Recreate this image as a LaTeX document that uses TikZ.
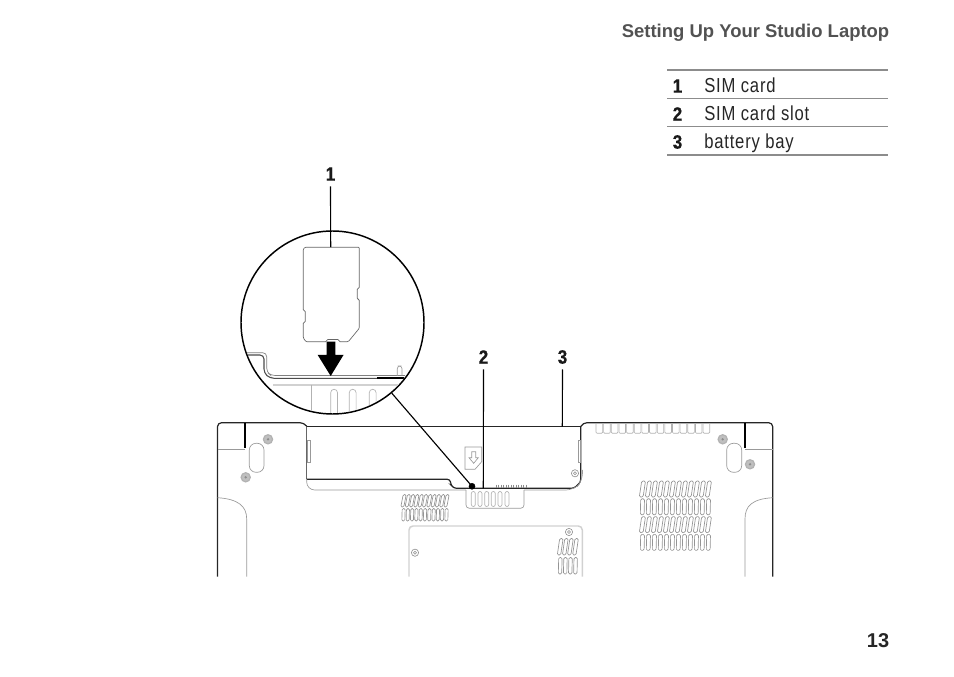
\documentclass[tikz,border=0pt]{standalone}
\usepackage{fontspec}
\setmainfont{Liberation Sans}
\newfontfamily\narrowfont[FakeStretch=0.82,LetterSpace=4]{Liberation Sans}
\newfontfamily\narrowbold[FakeStretch=0.88,FakeBold=0.6]{Liberation Sans Bold}

\tikzset{
  darkline/.style={black!85, line width=0.9pt},
  greyline/.style={black!40, line width=0.5pt},
  paleline/.style={black!18, line width=1.1pt},
  ventline/.style={black!42, line width=0.5pt, rounded corners=1pt},
  tablerule/.style={black!45, line width=0.75pt},
  leader/.style={black, line width=0.85pt},
  calloutnum/.style={font=\narrowbold\fontsize{14.5}{14.5}\selectfont, text=black!90, inner sep=0pt},
  keynum/.style={font=\narrowbold\fontsize{14.5}{14.5}\selectfont, text=black!90, inner sep=0pt},
  keytext/.style={font=\narrowfont\fontsize{15.2}{15.2}\selectfont, text=black!85, inner sep=0pt, anchor=base west},
  bigscrew/.style={black!30, fill=black!25, line width=0.9pt},
  smallscrew/.style={black!45, line width=0.45pt}
}

% x, y of first slit, columns, rows, column step, row step, slit height, slit width
\newcommand{\ventgrid}[8]{
  \foreach \r in {1,...,#4} {
    \foreach \c in {1,...,#3} {
      \pgfmathsetmacro{\sx}{#1+(\c-1)*#5}
      \pgfmathsetmacro{\sy}{#2+(\r-1)*#6}
      \pgfmathsetmacro{\sl}{mod(\r,2)==1 ? 1.2 : 0.2}
      \draw[ventline] (\sx-\sl,\sy+#7) -- (\sx-\sl+#8,\sy+#7) -- (\sx+\sl+#8,\sy) -- (\sx+\sl,\sy) -- cycle;
    }
  }
}

\begin{document}
\begin{tikzpicture}[x=0.75pt, y=-0.75pt]
\useasboundingbox (0,0) rectangle (954,677);

% page text
\node[anchor=east, inner sep=0pt, text=black!68, font=\bfseries\fontsize{13.85}{13.85}\selectfont] (title) at (889.5,32.5) {Setting Up Your Studio Laptop};
\node[anchor=east, inner sep=0pt, text=black!85, font=\bfseries\fontsize{15}{15}\selectfont] (pagenum) at (889.5,641) {13};

% key table
\foreach \y/\w in {70/1.1, 98.3/0.6, 126.7/1.1, 155/1.1} {
  \draw[tablerule, line width=\w*0.75pt] (667.3,\y) -- (887.7,\y);
}
\node[keynum] (keyone) at (677.5,86) {1};
\node[keynum] (keytwo) at (677.5,114) {2};
\node[keynum] (keythree) at (677.5,142) {3};
\node[keytext] (cardtext) at (704,93) {SIM card};
\node[keytext] (slottext) at (704,121) {SIM card slot};
\node[keytext] (baytext) at (704,149) {battery bay};

% laptop body
\draw[darkline, rounded corners=3pt] (217.5,576.7) -- (217.5,422.7) -- (304,422.7) -- (307,426.7);
\draw[darkline, rounded corners=3pt] (580.7,426.7) -- (583,422.7) -- (772.7,422.7) -- (772.7,576.7);
\draw[darkline] (307,426.7) -- (580.7,426.7);
\draw[black, line width=1.1pt] (245,422.7) -- (245,448.5);
\draw[black, line width=1.1pt] (745,422.7) -- (745,448.5);
\draw[greyline] (217.5,449.3) -- (245,449.3);
\draw[greyline] (745,449.3) -- (772.7,449.3);
\draw[greyline] (217.5,497.7) .. controls (238,499) and (246.7,506) .. (246.7,519) -- (246.7,576.7);
\draw[greyline] (772.7,497.7) .. controls (752,499) and (745,506) .. (745,519) -- (745,576.7);

% battery bay
\draw[black!60, line width=0.8pt] (306.7,426.7) -- (306.7,479.3);
\draw[darkline, rounded corners=2pt] (306.7,479.3) -- (450,479.3) -- (451,485) -- (454,488.3) -- (574,488.3) -- (580.7,482) -- (580.7,426.7);
\draw[greyline, rounded corners=6pt] (306.7,479.3) -- (306.7,490) -- (466,490);
\draw[greyline, rounded corners=6pt] (524,490) -- (574,490) -- (582.5,481) -- (582.5,470);
\draw[greyline] (307,440) rectangle (310,462);
\draw[greyline] (578,440) rectangle (580.7,462);

% battery latch
\draw[greyline, rounded corners=2.5pt] (466,490) -- (466,508.3) -- (524,508.3) -- (524,490);
\foreach \x in {473.3,480,486.7,493.3,500,507} {
  \draw[black!30, line width=0.5pt, rounded corners=1.5pt] (\x-2,491.5) rectangle (\x+2,506.5);
}
\foreach \x in {496,498.5,...,527} {
  \draw[black!45, line width=0.5pt] (\x,484.5) -- (\x,487.5);
}

% lock icon on the bay
\draw[greyline] (465,447) -- (481.7,447) -- (481.7,461.7) -- (475,469.3) -- (465,469.3) -- cycle;
\draw[greyline] (471.7,451.7) -- (475.7,451.7) -- (475.7,457.7) -- (478.3,457.7) -- (473.7,463.3) -- (469,457.7) -- (471.7,457.7) -- cycle;

% top vent
\foreach \i in {0,...,14} {
  \draw[black!30, line width=0.5pt, rounded corners=0.8pt] (596+\i*7.65,424) -- (596+\i*7.65,433.3) -- (602.6+\i*7.65,433.3) -- (602.6+\i*7.65,424);
}

% feet and screws
\draw[greyline, rounded corners=5pt] (249.3,443.3) rectangle (264,472.3);
\draw[greyline, rounded corners=5pt] (726.7,443.3) rectangle (741.7,472.3);
\foreach \x/\y in {268/439.3, 245.7/477.3, 722.7/439.3, 750/464.3} {
  \draw[bigscrew] (\x,\y) circle (4.6);
  \fill[black!45] (\x,\y) circle (1.3);
}
\foreach \x/\y in {415/552.7, 569/532, 575/473.3} {
  \draw[smallscrew] (\x,\y) circle (3.6);
  \draw[smallscrew] (\x,\y) circle (1.5);
}

% lower panel
\draw[paleline, rounded corners=3pt] (409,576.7) -- (409,526) -- (582.3,526) -- (582.3,576.7);

% vents
\ventgrid{402}{494.5}{11}{2}{4.3}{14}{12.5}{3}
\ventgrid{640.5}{481}{12}{4}{6}{17.8}{16}{3.8}
\ventgrid{558.5}{538.5}{4}{2}{5.1}{19}{16.5}{3.4}

% magnified circle
\node[circle, draw=black, line width=1.1pt, fill=white, minimum size=137.25pt, inner sep=0pt] (zoomcircle) at (332.5,322.5) {};
\begin{scope}
  \clip (332.5,322.5) circle (90.5);
  \draw[black!50, line width=0.5pt, rounded corners=3pt] (240,352.7) -- (266.7,352.7) -- (266.7,372) -- (271,375.5) -- (405,375.5);
  \draw[black!70, line width=0.8pt, rounded corners=3pt] (240,355) -- (264,355) -- (264,373) -- (270,378.3) -- (405,378.3);
  \draw[black, line width=1.1pt] (377,377.8) -- (405,377.8);
  \draw[greyline, rounded corners=2pt] (397.3,376) -- (397.3,366) -- (402,366) -- (402,376);
  \draw[paleline] (273,385) -- (400,385);
  \draw[black!30, line width=0.6pt] (311.7,385) -- (311.7,414);
  \foreach \x in {330.7,349.3,369.3} {
    \draw[black!30, line width=0.5pt, rounded corners=2.5pt] (\x,414) -- (\x,389.3) -- (\x+6.8,389.3) -- (\x+6.8,414);
  }
\end{scope}

% SIM card and insertion arrow
\coordinate (cardtop) at (330.7,247.2);
\draw[black!60, line width=0.5pt, rounded corners=0.8pt] (303.3,249) -- (305,247.2) -- (359.3,247.2) -- (359.3,288.3) -- (357.3,288.3) -- (357.3,299.3) -- (359.3,299.3) -- (359.3,328.3) -- (348.3,341.7) -- (339,341.7) -- (339,339.5) -- (326.7,339.5) -- (326.7,341.7) -- (306,341.7) -- (303.3,338) -- (303.3,322.3) -- (305.3,322.3) -- (305.3,310.7) -- (303.3,310.7) -- cycle;
\fill[black] (326.7,341.7) -- (335.3,341.7) -- (335.3,355) -- (343.5,355) -- (330.7,376) -- (317.7,355) -- (326.7,355) -- cycle;

% callouts
\node[calloutnum] (numone) at (330.5,174) {1};
\node[calloutnum] (numtwo) at (483.5,357) {2};
\node[calloutnum] (numthree) at (562.5,357) {3};
\coordinate (slotpoint) at (483.3,488.3);
\coordinate (baypoint) at (562.3,426.7);
\filldraw[black] (472,486.3) circle (3) coordinate (slotdot);
\draw[leader] (numone) ++(0,12.5) -- (cardtop);
\draw[leader] (numtwo) ++(0,12.5) -- (slotpoint);
\draw[leader] (numthree) ++(0,12.5) -- (baypoint);
\draw[leader] (zoomcircle.-50) -- (slotdot);
\end{tikzpicture}
\end{document}
